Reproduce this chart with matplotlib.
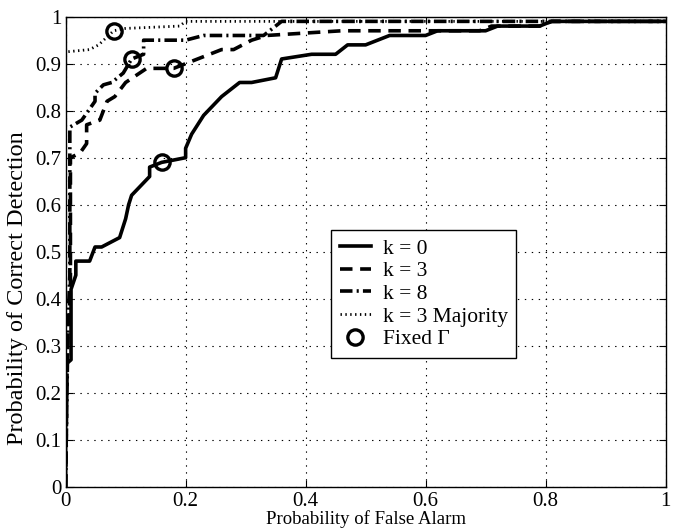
import matplotlib
matplotlib.use('Agg')
import matplotlib.pyplot as plt

plt.rcParams['font.family'] = ['Liberation Serif', 'DejaVu Serif']
plt.rcParams['lines.scale_dashes'] = False

# ROC curves
k0_x = [0, 0, 0.009, 0.009, 0.017, 0.017, 0.04, 0.049, 0.06, 0.09, 0.10, 0.105, 0.11, 0.14,
        0.14, 0.16, 0.2, 0.2, 0.21, 0.23, 0.26, 0.29, 0.31, 0.35, 0.36, 0.41, 0.45, 0.47,
        0.5, 0.54, 0.6, 0.62, 0.7, 0.72, 0.79, 0.81, 1.0]
k0_y = [0, 0.26, 0.27, 0.42, 0.45, 0.48, 0.48, 0.51, 0.51, 0.53, 0.57, 0.60, 0.62, 0.66,
        0.68, 0.69, 0.70, 0.72, 0.75, 0.79, 0.83, 0.86, 0.86, 0.87, 0.91, 0.92, 0.92, 0.94,
        0.94, 0.96, 0.96, 0.97, 0.97, 0.98, 0.98, 0.99, 0.99]

k3_x = [0, 0.003, 0.008, 0.008, 0.024, 0.035, 0.035, 0.057, 0.069, 0.082, 0.10, 0.135,
        0.18, 0.20, 0.26, 0.28, 0.31, 0.335, 0.46, 0.69, 0.71, 0.79, 0.81, 1.0]
k3_y = [0, 0.30, 0.42, 0.70, 0.71, 0.73, 0.77, 0.78, 0.82, 0.83, 0.86, 0.89,
        0.89, 0.90, 0.93, 0.93, 0.95, 0.96, 0.97, 0.97, 0.98, 0.98, 0.99, 0.99]

k8_x = [0, 0.004, 0.007, 0.007, 0.027, 0.049, 0.049, 0.063, 0.077, 0.096, 0.11, 0.13,
        0.13, 0.2, 0.23, 0.33, 0.36, 1.0]
k8_y = [0, 0.35, 0.45, 0.765, 0.78, 0.82, 0.837, 0.855, 0.86, 0.88, 0.91, 0.92,
        0.95, 0.95, 0.96, 0.96, 0.99, 0.99]

maj_x = [0, 0, 0.04, 0.055, 0.08, 0.10, 0.19, 0.20, 1.0]
maj_y = [0, 0.925, 0.93, 0.94, 0.97, 0.975, 0.98, 0.99, 0.99]

fixed_x = [0.08, 0.11, 0.18, 0.16]
fixed_y = [0.97, 0.91, 0.89, 0.69]

xticks = [0, 0.2, 0.4, 0.6, 0.8, 1]
xtick_labels = ['0', '0.2', '0.4', '0.6', '0.8', '1']
yticks = [0, 0.1, 0.2, 0.3, 0.4, 0.5, 0.6, 0.7, 0.8, 0.9, 1]
ytick_labels = ['0', '0.1', '0.2', '0.3', '0.4', '0.5', '0.6', '0.7', '0.8', '0.9', '1']

fig = plt.figure(figsize=(6.78, 5.31), dpi=100)
ax = fig.add_axes([0.0968, 0.0834, 0.8849, 0.8852])

lw = 2.6
ax.plot(k0_x, k0_y, color='black', lw=lw, linestyle='-', label='k = 0')
ax.plot(k3_x, k3_y, color='black', lw=lw, linestyle=(0, (9, 5.5)), label='k = 3')
ax.plot(k8_x, k8_y, color='black', lw=lw, linestyle=(0, (9, 3, 1.5, 3)), label='k = 8')
ax.plot(maj_x, maj_y, color='black', lw=2.0, linestyle=(0, (1, 2.5)), label='k = 3 Majority')
ax.plot(fixed_x, fixed_y, linestyle='none', marker='o', markersize=11, markerfacecolor='none',
        markeredgecolor='black', markeredgewidth=2.4, label='Fixed Γ')

ax.set_xlim(0, 1)
ax.set_ylim(0, 1)
ax.set_xticks(xticks)
ax.set_xticklabels(xtick_labels)
ax.set_yticks(yticks)
ax.set_yticklabels(ytick_labels)
ax.tick_params(direction='in', length=5, width=0.8, top=True, right=True, labelsize=15)
ax.tick_params(axis='x', pad=4)
ax.tick_params(axis='y', pad=3)
ax.grid(True, color='black', linestyle=(0, (1, 4)), linewidth=0.8)
for s in ax.spines.values():
    s.set_linewidth(1.0)

ax.set_xlabel('Probability of False Alarm', fontsize=13.5, labelpad=-1)
ax.set_ylabel('Probability of Correct Detection', fontsize=17.5)
ax.yaxis.set_label_coords(-0.063, 0.423)

leg = ax.legend(loc='upper left', bbox_to_anchor=(331 / 678, 1 - 230 / 531),
                bbox_transform=fig.transFigure, fontsize=15.5, frameon=True,
                fancybox=False, handlelength=1.45, handletextpad=0.55,
                labelspacing=0.12, borderpad=0.4, borderaxespad=0)
leg.get_frame().set_edgecolor('black')
leg.get_frame().set_linewidth(1.0)
leg.get_frame().set_alpha(1)

fig.savefig('out.png', dpi=100)
